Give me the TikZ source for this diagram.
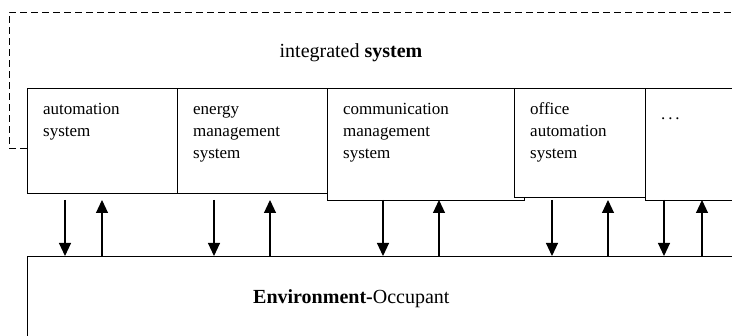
\documentclass[tikz,border=0pt]{standalone}
\usepackage{fontspec}
\setmainfont{Liberation Serif}
\usetikzlibrary{arrows.meta}

\tikzset{
  sysbox/.style={draw, fill=white, line width=1.1pt, anchor=north west, inner sep=0pt},
  systext/.style={anchor=base west, align=left, inner sep=0pt, font=\fontsize{17}{22}\selectfont},
  bigtext/.style={systext, font=\fontsize{20}{24}\selectfont},
  flow/.style={line width=1.1pt, -{Triangle[length=13pt,width=12pt]}},
}

\begin{document}
\begin{tikzpicture}[x=1pt,y=-1pt]
\clip (0,0) rectangle (732,336);

% integrated system frame
\coordinate (frame) at (27,148);
\draw[dash pattern=on 7pt off 4pt, line width=0.9pt] (frame) -- (9,148) -- (9,12) -- (745,12);
\node[bigtext, anchor=base] (integ) at (351,58) {integrated \textbf{system}};

% subsystems
\node[sysbox, minimum width=150pt, minimum height=105pt] (auto) at (27,88) {};
\node[sysbox, minimum width=150pt, minimum height=105pt] (energy) at (177,88) {};
\node[sysbox, minimum width=197pt, minimum height=112pt] (comm) at (327,88) {};
\node[sysbox, minimum width=131pt, minimum height=109pt] (office) at (514,88) {};
\node[sysbox, minimum width=110pt, minimum height=112pt] (more) at (645,88) {};

% base is the last line: 27 + 22 per extra line
\node[systext] (autot) at ([shift={(16,49)}]auto.north west) {automation\\system};
\node[systext] (energyt) at ([shift={(16,71)}]energy.north west) {energy\\management\\system};
\node[systext] (commt) at ([shift={(16,71)}]comm.north west) {communication\\management\\system};
\node[systext] (officet) at ([shift={(16,71)}]office.north west) {office\\automation\\system};
\node[systext] (moret) at ([shift={(16,32)}]more.north west) {.\,.\,.};

% environment
\node[sysbox, minimum width=730pt, minimum height=100pt] (env) at (27,256) {};
\node[bigtext] (envt) at ([shift={(226,48)}]env.north west) {\textbf{Environment-}Occupant};

% information flows
\coordinate (gap) at (0,200);
\foreach \dn/\up in {65/102, 214/270, 383/439, 552/608, 664/702} {
  \draw[flow] (\dn,0 |- gap) -- (\dn,0 |- env.north);
  \draw[flow] (\up,0 |- env.north) -- (\up,0 |- gap);
}
\end{tikzpicture}
\end{document}
